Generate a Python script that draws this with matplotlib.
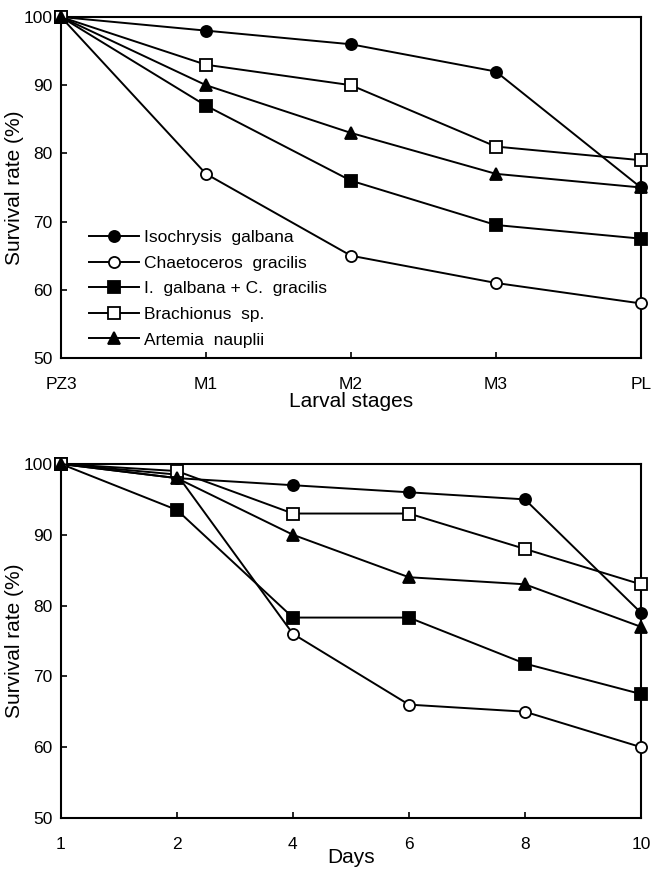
import matplotlib.pyplot as plt

plt.rcParams.update({
    "font.family": ["Liberation Sans", "DejaVu Sans"],
    "font.size": 12,
})

# ---- data ----
stages = ["PZ3", "M1", "M2", "M3", "PL"]
days = ["1", "2", "4", "6", "8", "10"]

series_names = [
    "Isochrysis  galbana",
    "Chaetoceros  gracilis",
    "I.  galbana + C.  gracilis",
    "Brachionus  sp.",
    "Artemia  nauplii",
]

stage_isochrysis = [100, 98, 96, 92, 75]
stage_chaetoceros = [100, 77, 65, 61, 58]
stage_mix = [100, 87, 76, 69.5, 67.5]
stage_brachionus = [100, 93, 90, 81, 79]
stage_artemia = [100, 90, 83, 77, 75]

day_isochrysis = [100, 98, 97, 96, 95, 79]
day_chaetoceros = [100, 98.5, 76, 66, 65, 60]
day_mix = [100, 93.5, 78.3, 78.3, 71.8, 67.5]
day_brachionus = [100, 99, 93, 93, 88, 83]
day_artemia = [100, 98, 90, 84, 83, 77]

markers = [
    dict(marker="o", mfc="black"),
    dict(marker="o", mfc="white"),
    dict(marker="s", mfc="black"),
    dict(marker="s", mfc="white"),
    dict(marker="^", mfc="black"),
]

fig = plt.figure(figsize=(6.53, 8.71), dpi=100)
ax1 = fig.add_axes([0.0934, 0.589, 0.888, 0.3915])
ax2 = fig.add_axes([0.0934, 0.061, 0.888, 0.4063])


def draw(ax, labels, data):
    x = list(range(len(labels)))
    for ys, name, mk in zip(data, series_names, markers):
        ax.plot(x, ys, color="black", linewidth=1.4, marker=mk["marker"],
                markerfacecolor=mk["mfc"], markeredgecolor="black",
                markeredgewidth=1.3, markersize=8, label=name, clip_on=False,
                zorder=3)
    ax.set_xlim(0, len(labels) - 1)
    ax.set_ylim(50, 100)
    ax.set_xticks(x)
    ax.set_xticklabels(labels, fontsize=12.5)
    ax.set_yticks([50, 60, 70, 80, 90, 100])
    ax.tick_params(axis="y", labelsize=12.5, direction="in", length=4,
                   width=1.2, pad=6)
    ax.tick_params(axis="x", direction="in", length=4, width=1.2, pad=14)
    for s in ax.spines.values():
        s.set_linewidth(1.5)
    ax.set_ylabel("Survival rate (%)", fontsize=15, labelpad=0)


draw(ax1, stages, [stage_isochrysis, stage_chaetoceros, stage_mix,
                   stage_brachionus, stage_artemia])
ax1.set_xlabel("Larval stages", fontsize=15, labelpad=0)
ax1.legend(loc="lower left", bbox_to_anchor=(0.03, 0.0), frameon=False,
           fontsize=12.5, handlelength=2.9, handletextpad=0.3,
           labelspacing=0.6, borderaxespad=0.2)

draw(ax2, days, [day_isochrysis, day_chaetoceros, day_mix,
                 day_brachionus, day_artemia])
ax2.set_xlabel("Days", fontsize=15, labelpad=-3)

fig.savefig("out.png", dpi=100)
